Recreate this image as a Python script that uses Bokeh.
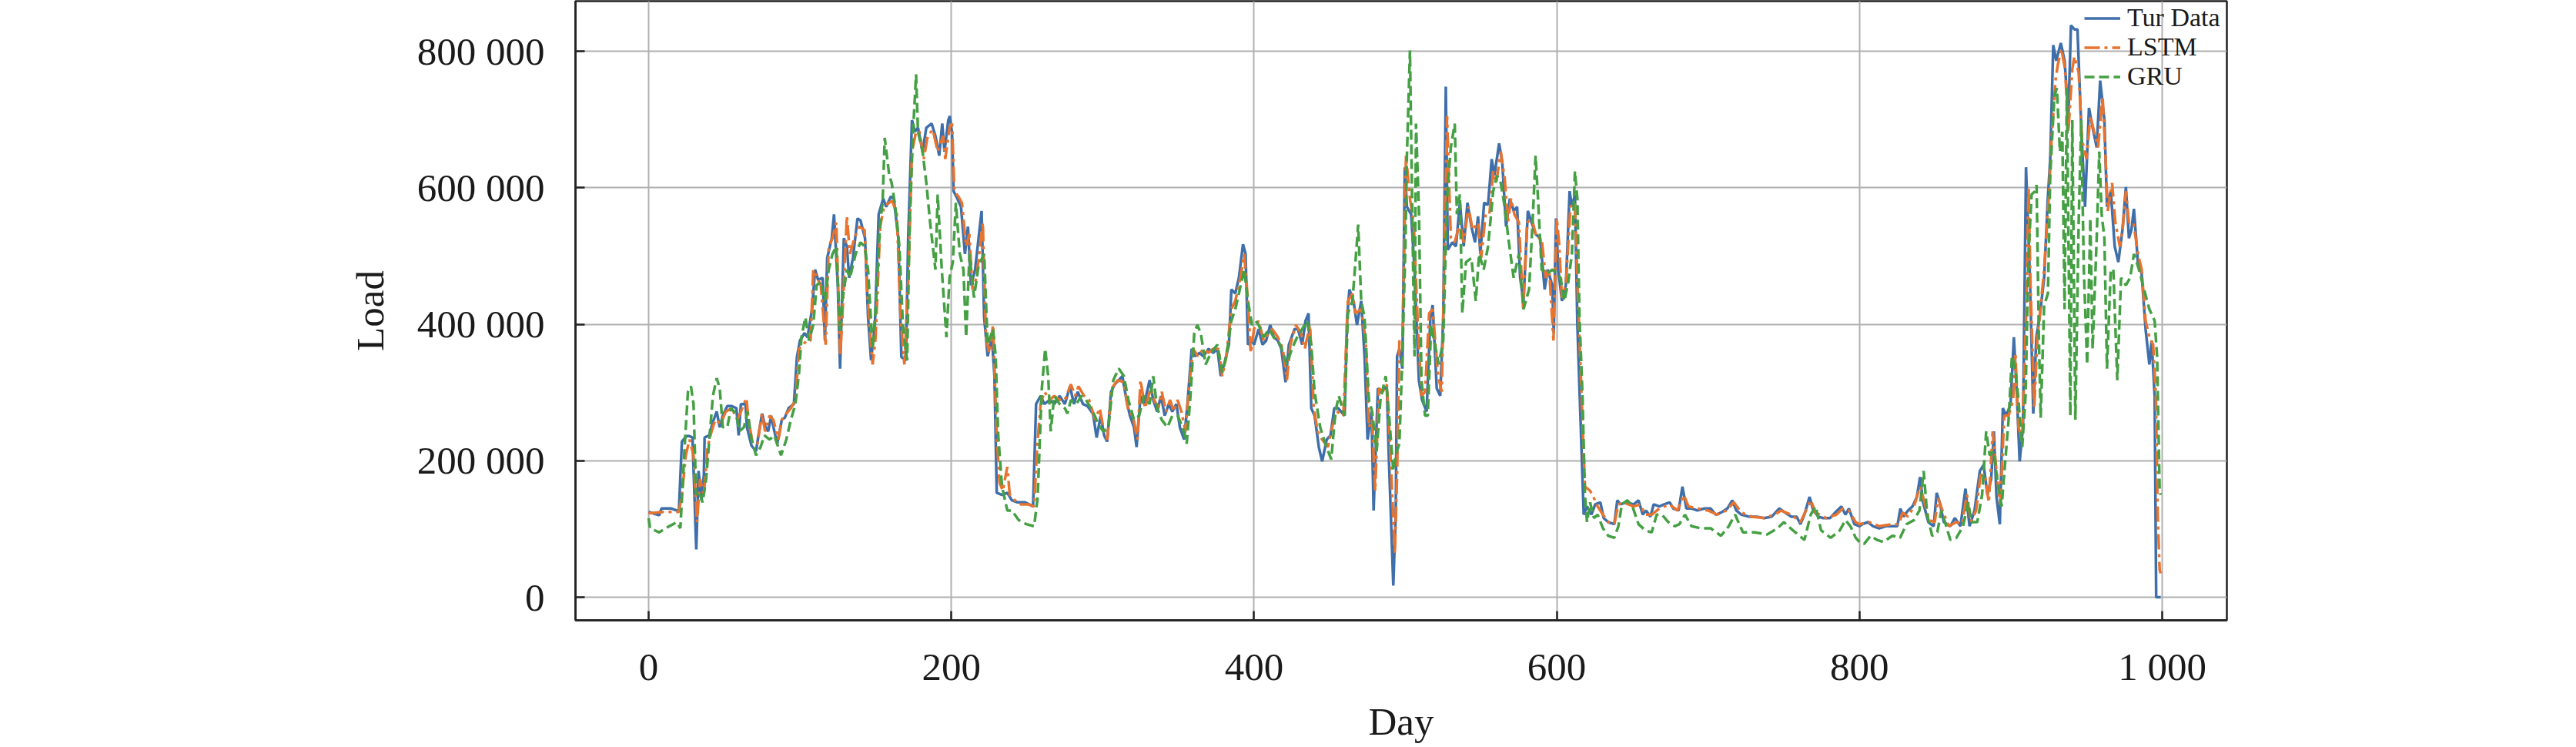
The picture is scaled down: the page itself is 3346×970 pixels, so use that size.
from bokeh.plotting import figure
from bokeh.models import FixedTicker, Range1d
from bokeh.embed import file_html
from bokeh.resources import INLINE
import numpy as np

FONT = "Liberation Serif"

# ---------------- data (values in thousands of load units) ----------------
tur_day = [0, 7, 8.5, 15, 20, 22, 25, 27, 29, 31.5, 33, 35, 36.5, 37, 40, 42.5, 45, 47, 49, 52, 55, 58, 59.5, 61, 64,
           65, 68, 71, 73, 75, 77, 79, 81, 82.5, 85, 88, 90, 92.5, 96, 98, 100, 103, 105, 108, 110, 112, 115, 116.5,
           118, 121, 122.5, 125, 126.5, 129, 131, 132.5, 135, 138, 140, 143, 145, 147, 149.5, 152, 155, 157, 160,
           162, 165, 167, 170, 171.5, 174, 176, 178, 181, 183.5, 187, 189.5, 192, 194, 195.5, 198, 199, 200.5, 201.5,
           204, 206.4, 209, 211, 213, 215.7, 218, 220, 221.7, 224, 226.8, 228.5, 230, 233.5, 237, 240, 243.7, 248.8,
           254, 256, 259, 261.5, 265, 268, 271.6, 275, 278.4, 281, 283.5, 287, 290, 293.6, 296, 298.7, 301, 303,
           305.5, 308, 310.6, 313, 315.7, 318, 320.7, 322.4, 325, 327.5, 331, 333.4, 336, 338.5, 341, 343.6, 346,
           348.7, 351, 353.8, 356, 358.8, 361, 364, 366.5, 369.9, 373, 375.8, 378, 380.9, 383.4, 385, 387.6, 390,
           392.7, 394.4, 396, 398.6, 400, 403, 405.6, 408, 410.7, 413, 415.7, 418, 420.8, 423, 426.8, 429, 431.8,
           434, 436, 437.8, 440, 442.8, 445, 448, 450.5, 453, 455.5, 459.8, 461.5, 463, 465.7, 468, 470.8, 473, 475,
           477.6, 479, 481.8, 484, 487.7, 489, 492, 493.6, 494.5, 496, 498, 499.6, 501, 503.8, 506, 508.9, 511, 514,
           516.5, 518, 520.7, 523, 525, 526.7, 528, 531, 533.4, 536, 538.5, 541, 543.6, 546, 548, 549.5, 552, 554.6,
           557, 558.8, 561.9, 564, 566.5, 569, 571.6, 573.8, 575.8, 578, 580.9, 583.4, 586, 589, 592, 594, 597, 598,
           599.5, 601, 603.4, 606, 608.5, 610, 612, 613.6, 615.6, 617.8, 620, 622.9, 625.4, 628.8, 631, 634, 638,
           640, 642, 645.8, 650.8, 654, 656.8, 659, 661.9, 664, 667.8, 671, 674.6, 677, 680.5, 683, 685.6, 689, 693,
           697.5, 701.7, 705, 708.5, 712.7, 716, 718.6, 722, 727, 732, 737, 742, 747, 750.8, 755, 758.5, 761, 763.6,
           767, 769.5, 772.9, 776, 780.5, 783.9, 788, 790.7, 793, 796.6, 800, 802, 805.6, 809, 813, 817.5, 821.7,
           825, 827, 829, 832, 835, 837.9, 840, 842, 845.5, 849, 851, 853, 855.7, 860, 863, 866.7, 870, 872.7, 876,
           879.5, 882, 884.5, 887, 888.8, 890.5, 892.7, 894.7, 897, 899.8, 902, 904, 905.8, 908, 910, 912.6, 914.8,
           916.8, 919, 922, 924.4, 926, 928, 930, 933, 935.5, 938, 939.7, 942, 944, 946.5, 949, 951.6, 954, 956.7,
           959, 961.8, 963.5, 966, 968.6, 971, 973.7, 976, 978, 979.6, 981.3, 983.9, 986.4, 989, 991.5, 993, 995,
           996, 999]
tur_load_k = [125, 120, 130, 130, 126, 228, 236, 236, 234, 70, 185, 142, 179, 234, 237, 257, 272, 249, 266, 280, 280,
              277, 237, 283, 283, 249, 222, 214, 243, 269, 251, 243, 266, 249, 225, 260, 263, 277, 283, 352, 376, 387,
              381, 422, 480, 465, 468, 376, 497, 526, 561, 457, 335, 526, 514, 468, 497, 555, 552, 526, 410, 347, 399,
              561, 584, 572, 587, 584, 526, 352, 347, 526, 699, 682, 688, 653, 688, 694, 676, 647, 694, 653, 699, 705,
              680, 595, 584, 572, 503, 543, 457, 480, 526, 566, 410, 353, 381, 324, 153, 150, 153, 142, 139, 139, 133,
              283, 295, 283, 289, 283, 295, 283, 309, 283, 301, 283, 280, 269, 234, 266, 237, 228, 301, 312, 318, 324,
              289, 266, 249, 220, 295, 283, 318, 289, 272, 295, 266, 283, 272, 283, 249, 231, 283, 364, 353, 358, 353,
              364, 358, 364, 324, 347, 370, 451, 445, 468, 517, 503, 370, 376, 370, 393, 370, 376, 399, 381, 376, 364,
              315, 370, 393, 393, 370, 405, 416, 277, 266, 220, 199, 231, 237, 277, 277, 266, 410, 451, 434, 399, 434,
              353, 231, 272, 127, 306, 301, 309, 208, 17, 121, 353, 364, 335, 630, 572, 561, 480, 318, 289, 272, 410,
              428, 306, 295, 410, 748, 509, 520, 514, 578, 514, 578, 543, 520, 558, 503, 578, 575, 642, 618, 665, 636,
              543, 584, 566, 572, 468, 434, 566, 549, 532, 526, 451, 480, 457, 387, 555, 480, 434, 457, 595, 572, 590,
              399, 266, 121, 133, 121, 136, 139, 116, 110, 107, 142, 136, 139, 136, 142, 121, 127, 118, 136, 133, 136,
              139, 130, 127, 162, 130, 130, 127, 130, 130, 121, 124, 130, 142, 127, 121, 118, 118, 116, 118, 130, 124,
              118, 118, 107, 121, 147, 127, 118, 116, 116, 124, 133, 121, 130, 107, 104, 107, 110, 104, 101, 104, 104,
              104, 130, 118, 127, 133, 147, 176, 139, 110, 104, 153, 139, 110, 104, 116, 104, 159, 104, 127, 185, 194,
              150, 173, 243, 147, 107, 277, 266, 283, 381, 295, 199, 249, 630, 468, 269, 381, 410, 468, 584, 642, 809,
              786, 812, 786, 705, 838, 832, 832, 688, 572, 717, 688, 659, 757, 699, 572, 595, 514, 491, 538, 601, 526,
              538, 569, 491, 474, 393, 341, 376, 295, 0, 0]

lstm_day = [0, 10, 20, 22, 24.6, 27, 29.7, 32, 34, 36.5, 39, 41.6, 44, 47.6, 51, 55, 58.6, 61, 64.6, 66, 68.8, 72,
            74.8, 77, 80, 82.4, 85.8, 88, 91, 94, 97, 99.4, 102, 104.5, 107, 108.8, 111.3, 113.8, 117, 119, 121.5,
            124, 126.6, 128, 131, 133, 136, 139, 142.7, 145, 148, 150, 153, 155.5, 159, 161, 164, 166.5, 169, 171.6,
            174, 176.7, 179, 181.8, 184.4, 187.8, 191, 194.6, 196, 198.8, 200.5, 202, 204.7, 207, 209.8, 211.9, 214,
            216.6, 219, 220.8, 222.9, 225, 227.6, 230, 231.8, 234, 237, 238.6, 242, 246, 251, 254.7, 256.7, 259,
            261.5, 265, 268, 271.6, 275, 279, 281.8, 284, 287.7, 291, 295, 298, 300.4, 303, 306, 309.8, 314, 317,
            319.9, 323, 325, 328, 331.7, 334, 336.8, 339, 341.9, 344.5, 347, 349.5, 352, 354.7, 357, 359.7, 363,
            366.5, 369.9, 373, 376.6, 379, 381.7, 385, 387.6, 391, 393.5, 396, 397.8, 400, 403, 406.4, 409.8, 412,
            415.7, 419, 421.7, 424, 427.6, 431, 433.5, 437, 439.5, 442, 445, 448.8, 451.6, 454.7, 459, 462, 465, 467,
            470.8, 473.8, 475.9, 478, 480, 482.6, 485, 487.7, 490, 493, 494.5, 496, 498, 500.4, 503, 505.5, 508,
            510.6, 513, 515.7, 518, 521.6, 524, 526, 527.5, 530, 532.6, 536, 538.5, 541.6, 544.4, 548, 550, 553,
            555.5, 558, 560, 563, 565.6, 567.7, 569.8, 572, 575, 577.8, 580.5, 583.4, 586.8, 590, 592.7, 595, 597.8,
            600, 601.5, 603.4, 606, 609, 612, 614, 616, 618.6, 622, 624.6, 627, 630.5, 634, 638, 640.7, 644, 650.8,
            655, 658.5, 662.7, 667.8, 674.6, 679.7, 683.9, 687, 693, 700, 706, 712, 717, 722, 728.8, 737, 744, 748,
            755, 761, 764, 767.8, 771, 778, 784.7, 789, 793, 797.5, 800, 806.5, 813, 821.7, 826, 828.5, 832, 836,
            840, 843, 846, 849.7, 852, 854.8, 859, 864, 867.6, 871, 873.5, 877, 880, 882.9, 885.4, 888, 890.5, 893,
            895.6, 898.5, 901.5, 903, 905, 907.5, 910, 911.7, 913, 915.4, 917.6, 920, 922, 925, 927, 929.5, 931,
            933.4, 935.8, 938, 940.6, 942, 944.8, 947, 950, 952.5, 955, 957.6, 960.6, 962.6, 964, 966.9, 969, 972,
            974, 976, 978, 981, 984, 986.4, 989, 991.5, 994, 995.8, 997, 998.3, 999]
lstm_load_k = [123, 125, 125, 150, 208, 231, 208, 110, 173, 150, 220, 243, 260, 254, 272, 277, 260, 272, 292, 260, 225,
               225, 269, 243, 266, 260, 231, 260, 269, 277, 289, 364, 370, 376, 376, 480, 468, 457, 370, 514, 526, 549,
               353, 410, 558, 503, 526, 543, 538, 428, 341, 381, 543, 572, 578, 581, 561, 410, 341, 468, 653, 682, 682,
               642, 676, 685, 653, 676, 642, 688, 694, 595, 587, 578, 514, 532, 451, 468, 514, 549, 381, 358, 399, 237,
               168, 156, 191, 150, 142, 136, 136, 133, 220, 283, 301, 289, 295, 289, 289, 312, 295, 309, 295, 289, 260,
               277, 249, 231, 306, 318, 315, 272, 266, 231, 318, 277, 306, 289, 277, 301, 272, 289, 272, 289, 272, 243,
               306, 364, 353, 364, 358, 364, 364, 324, 353, 422, 434, 468, 503, 434, 358, 393, 405, 376, 387, 393, 381,
               364, 318, 370, 399, 387, 364, 399, 277, 243, 231, 220, 249, 272, 266, 434, 445, 416, 422, 376, 249, 260,
               156, 306, 301, 312, 214, 64, 179, 376, 370, 647, 584, 549, 410, 295, 301, 416, 422, 324, 301, 526, 705,
               526, 520, 549, 520, 572, 538, 549, 497, 561, 561, 624, 607, 653, 613, 549, 584, 561, 549, 422, 549, 555,
               526, 526, 468, 480, 376, 555, 520, 439, 457, 572, 578, 439, 318, 162, 156, 145, 133, 121, 110, 107, 136,
               139, 133, 136, 121, 121, 130, 136, 127, 150, 133, 130, 127, 121, 127, 139, 124, 118, 116, 121, 127, 121,
               110, 124, 142, 124, 116, 121, 130, 127, 110, 107, 110, 104, 107, 107, 124, 118, 133, 162, 139, 113, 110,
               145, 127, 104, 110, 107, 150, 110, 127, 179, 179, 139, 243, 185, 133, 266, 266, 289, 358, 249, 231, 410,
               601, 457, 277, 381, 434, 480, 584, 676, 757, 780, 803, 774, 682, 774, 792, 769, 670, 642, 705, 682, 659,
               734, 642, 566, 607, 549, 514, 543, 595, 549, 549, 503, 480, 405, 381, 370, 295, 121, 40, 35]

gru_day = [0, 1, 7, 13.6, 18.7, 21, 23.8, 26, 28, 29.7, 31.4, 33, 35.7, 38, 40.8, 42.5, 45, 47, 49, 52, 54.4, 57.8,
           60, 63, 65.4, 68, 71, 74, 76.5, 80, 83, 87.5, 91, 94, 97, 99.4, 101, 103.6, 106, 108.8, 111, 113.8, 116.4,
           119, 121.5, 124, 126.6, 128, 131, 133, 136.8, 140, 142.7, 145, 148, 150, 153, 154.6, 156, 159, 160.6, 163,
           165.7, 168, 170.8, 172.5, 174.6, 176.7, 178, 181, 183.5, 186, 189.5, 191, 193.7, 196.8, 198.8, 201, 203,
           205.6, 208, 209.8, 212, 215, 218, 221.7, 224, 227.6, 229.3, 231, 233.5, 237, 240, 244.5, 249.6, 254.7,
           257, 259.8, 262, 264, 265.7, 268, 271.6, 275, 276.7, 279, 282.6, 286, 289, 293.6, 297, 300.4, 303.8, 307,
           310.6, 314, 317, 320.7, 324, 327.5, 331, 333.4, 336, 339, 342.8, 346, 349.5, 352.9, 355.5, 358, 360.5,
           362.5, 364.8, 368, 371.5, 375.8, 379, 381.7, 385, 387.6, 390, 393.5, 396, 398.6, 401, 403, 406.4, 409.8,
           413, 417.4, 421.7, 425, 428.5, 431.8, 435, 437.8, 440, 443.7, 447, 451, 453.8, 456, 459.8, 462, 465,
           467.4, 468.8, 470.8, 473, 475.9, 478, 481, 483.5, 487, 489, 492, 493.6, 496, 498, 500, 501, 503, 504.7,
           506, 507, 509, 510.6, 513, 514.8, 517, 520, 522, 525, 527.5, 530, 532.6, 534, 536, 537.6, 540, 543.6,
           546.5, 548.7, 551.7, 554.6, 558, 560.5, 563, 565.6, 568, 571.5, 575, 578, 581.7, 584, 586, 587.6, 590,
           593.6, 597, 600, 602.5, 605, 607.6, 610, 612, 613.6, 615, 617, 618.6, 620, 622, 624.6, 627, 630.5, 634,
           638, 640.7, 643, 646.6, 650, 654, 658.5, 662.7, 666, 669.5, 673.7, 678, 681, 684.7, 689, 695, 701.7,
           708.5, 713.6, 717.8, 723, 730.5, 739, 745.8, 750, 756, 763.6, 767.8, 771, 774.6, 781, 787, 790.7, 794,
           797.5, 800, 803, 807.3, 811.5, 815.8, 821.7, 826.8, 831, 836, 839.6, 842.4, 844.7, 848, 851.4, 854,
           856.5, 860, 864, 868.4, 871.8, 874, 877.8, 881, 883.7, 886, 888.8, 891, 893.9, 896, 898.5, 900.7, 903,
           905, 907.5, 909.7, 911.7, 913.7, 916, 917, 918.5, 919.7, 922, 924.5, 926, 928.7, 930.4, 932.4, 934,
           935.5, 937, 939.3, 940.6, 942.6, 944.8, 946.5, 948.2, 950.4, 952.5, 954, 956.7, 958.4, 960, 961.8, 963.5,
           966, 967.7, 970.3, 972.8, 976, 978.8, 981.3, 984.7, 988, 991.5, 995, 996.6, 998.3, 999]
gru_load_k = [116, 101, 95, 104, 110, 101, 220, 301, 309, 283, 150, 156, 139, 173, 249, 295, 321, 306, 249, 249, 277,
              269, 243, 249, 272, 231, 208, 220, 237, 231, 237, 208, 231, 260, 283, 329, 381, 410, 376, 399, 457, 462,
              434, 480, 503, 514, 387, 434, 480, 468, 503, 520, 514, 480, 364, 422, 549, 578, 673, 618, 607, 572, 514,
              399, 347, 549, 676, 766, 682, 653, 607, 549, 480, 590, 480, 381, 468, 491, 578, 503, 480, 381, 503, 439,
              486, 503, 370, 393, 353, 237, 162, 127, 127, 113, 107, 104, 145, 306, 364, 324, 243, 295, 283, 277, 269,
              289, 283, 295, 289, 272, 254, 243, 249, 318, 335, 324, 289, 260, 266, 295, 283, 324, 277, 260, 249, 266,
              266, 249, 225, 295, 387, 399, 387, 341, 358, 370, 329, 353, 405, 422, 445, 480, 434, 399, 405, 399, 381,
              393, 381, 370, 341, 364, 381, 393, 405, 370, 301, 249, 225, 202, 272, 295, 266, 416, 434, 503, 546, 434,
              410, 289, 272, 214, 289, 324, 272, 185, 208, 225, 353, 514, 647, 801, 538, 353, 694, 561, 318, 266, 266,
              399, 364, 341, 376, 584, 659, 694, 561, 590, 416, 491, 497, 434, 503, 480, 514, 595, 618, 607, 572, 526,
              468, 503, 422, 451, 549, 647, 584, 480, 474, 480, 474, 468, 434, 462, 503, 624, 584, 410, 295, 150, 110,
              139, 116, 121, 101, 90, 87, 104, 136, 142, 133, 107, 98, 95, 121, 121, 110, 104, 107, 121, 104, 101, 101,
              90, 104, 121, 95, 95, 92, 101, 110, 98, 84, 121, 133, 98, 87, 98, 113, 104, 87, 81, 78, 90, 84, 81, 90,
              87, 107, 113, 127, 185, 121, 90, 95, 127, 110, 84, 87, 104, 139, 110, 110, 150, 243, 208, 214, 173, 133,
              191, 260, 353, 335, 289, 220, 295, 503, 590, 595, 604, 381, 263, 428, 445, 618, 734, 746, 653, 682, 422,
              746, 266, 699, 260, 549, 699, 480, 341, 555, 364, 526, 653, 561, 526, 335, 480, 480, 318, 468, 457, 468,
              503, 480, 451, 422, 405, 353, 156, 150]

series_names = ["Tur Data", "LSTM", "GRU"]
x_ticks = [0, 200, 400, 600, 800, 1000]
x_tick_labels = ["0", "200", "400", "600", "800", "1 000"]
y_ticks = [0, 200000, 400000, 600000, 800000]
y_tick_labels = ["0", "200 000", "400 000", "600 000", "800 000"]

# ---------------- figure ----------------
p = figure(width=3346, height=970, output_backend="svg", toolbar_location=None,
           x_range=Range1d(-48.3, 1042.7), y_range=Range1d(-33850, 873343),
           min_border_left=747, min_border_right=454, min_border_top=1, min_border_bottom=165,
           background_fill_color="white", border_fill_color="white")

p.outline_line_color = "#222222"
p.outline_line_width = 2.5
p.outline_line_alpha = 1.0

p.line(tur_day, np.array(tur_load_k) * 1000, line_color="#3F6FAA", line_width=3.5,
       legend_label=series_names[0])
p.line(lstm_day, np.array(lstm_load_k) * 1000, line_color="#E8732F", line_width=3.5,
       line_dash="20 6 4 6", legend_label=series_names[1])
p.line(gru_day, np.array(gru_load_k) * 1000, line_color="#45A044", line_width=3.5,
       line_dash="13 6", legend_label=series_names[2])

for ax in (p.xaxis, p.yaxis):
    ax.axis_line_color = "#222222"
    ax.axis_line_width = 2.5
    ax.major_tick_in = 12
    ax.major_tick_out = 0
    ax.major_tick_line_width = 2.5
    ax.major_tick_line_color = "#222222"
    ax.minor_tick_line_color = None
    ax.major_label_text_font = FONT
    ax.major_label_text_font_size = "51px"
    ax.major_label_text_color = "#1a1a1a"
    ax.axis_label_text_font = FONT
    ax.axis_label_text_font_size = "51px"
    ax.axis_label_text_font_style = "normal"
    ax.axis_label_text_color = "#1a1a1a"

p.xaxis.ticker = FixedTicker(ticks=x_ticks)
p.xaxis.major_label_overrides = {t: l for t, l in zip(x_ticks, x_tick_labels)}
p.yaxis.ticker = FixedTicker(ticks=y_ticks)
p.yaxis.major_label_overrides = {t: l for t, l in zip(y_ticks, y_tick_labels)}
p.xaxis.axis_label = "Day"
p.yaxis.axis_label = "Load"
p.xaxis.major_label_standoff = 32
p.yaxis.major_label_standoff = 40
p.xaxis.axis_label_standoff = 12
p.yaxis.axis_label_standoff = 30

p.xgrid.grid_line_color = "#b0b0b0"
p.ygrid.grid_line_color = "#b0b0b0"
p.xgrid.grid_line_width = 2
p.ygrid.grid_line_width = 2

lg = p.legend[0]
lg.location = (1960, 687)
lg.label_text_font = FONT
lg.label_text_font_size = "34px"
lg.label_text_color = "#1a1a1a"
lg.glyph_width = 47
lg.glyph_height = 35
lg.label_height = 35
lg.label_standoff = 9
lg.spacing = 0
lg.padding = 0
lg.margin = 0
lg.background_fill_alpha = 0
lg.border_line_alpha = 0

open("out.html", "w").write(file_html(p, INLINE))
